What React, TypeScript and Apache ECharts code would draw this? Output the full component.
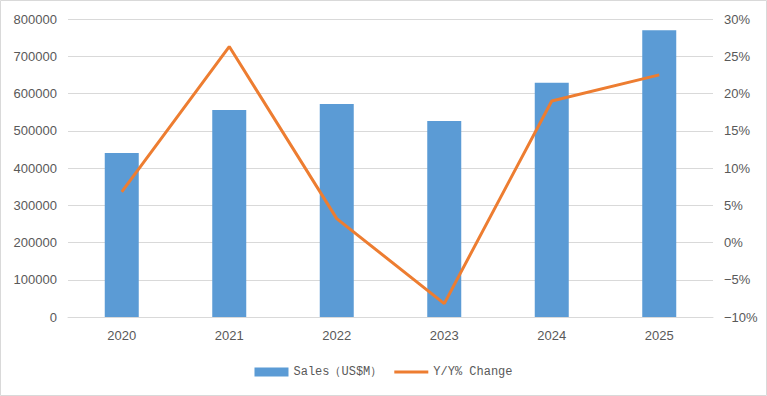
import React, { useEffect, useRef } from "react";
import * as echarts from "echarts";

const years = ["2020", "2021", "2022", "2023", "2024", "2025"];
const sales = [440000, 556000, 572000, 526000, 629000, 770000];
const yoyChange = [6.8, 26.3, 3.2, -8.2, 19.0, 22.5];
const seriesNames = ["Sales（US$M）", "Y/Y% Change"];

export default function App() {
  const ref = useRef<HTMLDivElement>(null);
  useEffect(() => {
    if (!ref.current) return;
    const chart = echarts.init(ref.current, null, { renderer: "svg" });
    const labelStyle = {
      color: "#595959",
      fontFamily: "Liberation Sans, Arial, sans-serif",
      fontSize: 13,
    };
    chart.setOption({
      animation: false,
      backgroundColor: "#ffffff",
      graphic: [
        {
          type: "rect",
          shape: { x: 0.5, y: 0.5, width: 766, height: 395 },
          style: { fill: "none", stroke: "#D9D9D9", lineWidth: 1 },
          silent: true,
        },
      ],
      grid: { left: 68, right: 54, top: 19, bottom: 79 },
      legend: {
        left: "center",
        top: 361,
        itemGap: 12,
        itemWidth: 34,
        itemHeight: 9,
        symbolKeepAspect: true,
        textStyle: {
          color: "#595959",
          fontFamily: "Liberation Mono, DejaVu Sans Mono, monospace",
          fontSize: 12,
        },
        data: [
          { name: seriesNames[0], icon: "rect" },
          { name: seriesNames[1], icon: "path://M0,0H12V1H0Z" },
        ],
      },
      xAxis: {
        type: "category",
        data: years,
        axisLine: { lineStyle: { color: "#D9D9D9" } },
        axisTick: { show: false },
        axisLabel: { ...labelStyle, margin: 12 },
      },
      yAxis: [
        {
          type: "value",
          min: 0,
          max: 800000,
          interval: 100000,
          axisLine: { show: false },
          axisTick: { show: false },
          splitLine: { lineStyle: { color: "#D9D9D9" } },
          axisLabel: { ...labelStyle, margin: 11, formatter: (v: number) => String(v) },
        },
        {
          type: "value",
          min: -10,
          max: 30,
          interval: 5,
          axisLine: { show: false },
          axisTick: { show: false },
          splitLine: { show: false },
          axisLabel: {
            ...labelStyle,
            margin: 11,
            formatter: (v: number) => (v < 0 ? "−" + Math.abs(v) : String(v)) + "%",
          },
        },
      ],
      series: [
        {
          name: seriesNames[0],
          type: "bar",
          data: sales,
          barWidth: 34,
          itemStyle: { color: "#5B9BD5" },
        },
        {
          name: seriesNames[1],
          type: "line",
          yAxisIndex: 1,
          data: yoyChange,
          symbol: "none",
          lineStyle: { color: "#ED7D31", width: 3 },
          itemStyle: { color: "#ED7D31" },
        },
      ],
    });
    return () => chart.dispose();
  }, []);
  return (
    <div
      ref={ref}
      style={{ position: "fixed", left: 0, top: 0, width: 767, height: 396 }}
    />
  );
}
